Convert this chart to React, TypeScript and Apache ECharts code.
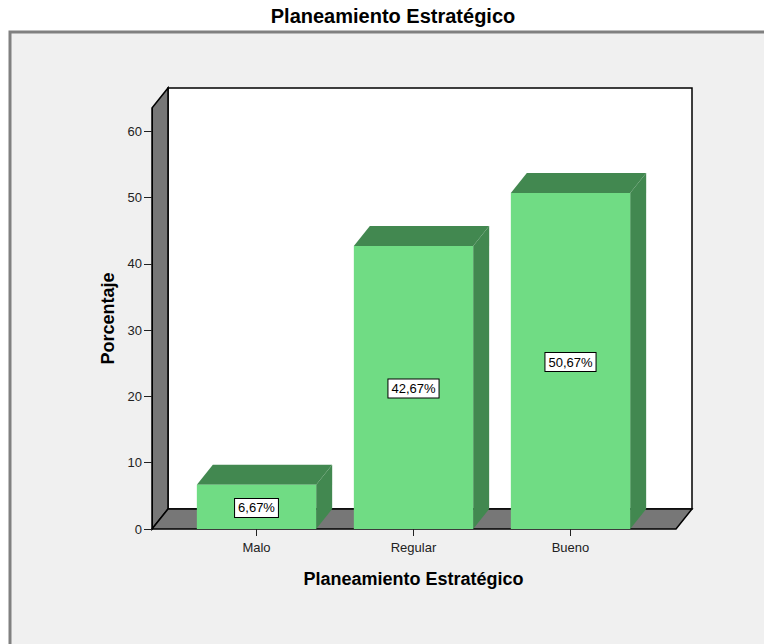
import React, { useEffect, useRef } from "react";
import * as echarts from "echarts";

// Category names, percentages and y tick values
const categories = ["Malo", "Regular", "Bueno"];
const percentages = [6.67, 42.67, 50.67];
const yTicks = [0, 10, 20, 30, 40, 50, 60];

const FONT = "'Liberation Sans', Arial, sans-serif";
// 3D depth offset of bars and walls (pixels)
const DX = 16;
const DY = -20;
const FRONT = "#70dc84";
const SHADE = "#428850";
const WALL = "#777777";

const fmt = (v: number) => v.toFixed(2).replace(".", ",") + "%";

export default function App() {
  const ref = useRef<HTMLDivElement>(null);

  useEffect(() => {
    if (!ref.current) return;
    const chart = echarts.init(ref.current, undefined, { renderer: "svg" });

    const option: any = {
      animation: false,
      backgroundColor: "#ffffff",
      title: {
        text: "Planeamiento Estratégico",
        left: 388,
        top: 1,
        textAlign: "center",
        textStyle: { fontFamily: FONT, fontSize: 20, fontWeight: "bold", color: "#000" },
      },
      graphic: [
        {
          type: "rect",
          z: -10,
          shape: { x: 10, y: 32, width: 800, height: 700 },
          style: { fill: "#f0f0f0", stroke: "#808080", lineWidth: 3 },
        },
      ],
      grid: { left: 178, width: 471, top: 108, height: 421 },
      xAxis: {
        type: "category",
        data: categories,
        z: 10,
        axisLine: { show: false },
        axisTick: { show: true, alignWithLabel: true, length: 7, lineStyle: { color: "#222", width: 1 } },
        axisLabel: { fontFamily: FONT, fontSize: 13, color: "#222", margin: 12 },
        name: "Planeamiento Estratégico",
        nameLocation: "middle",
        nameGap: 41,
        nameTextStyle: { fontFamily: FONT, fontSize: 18, fontWeight: "bold", color: "#000" },
      },
      yAxis: {
        type: "value",
        min: 0,
        max: 63.5,
        offset: 26,
        z: 10,
        splitLine: { show: false },
        axisLine: { show: true, lineStyle: { color: "#000", width: 1 } },
        axisTick: { show: true, length: 8, customValues: yTicks, lineStyle: { color: "#222" } },
        axisLabel: { fontFamily: FONT, fontSize: 13, color: "#222", margin: 10, customValues: yTicks },
        name: "Porcentaje",
        nameLocation: "middle",
        nameGap: 35,
        nameRotate: 90,
        nameTextStyle: { fontFamily: FONT, fontSize: 18, fontWeight: "bold", color: "#000" },
      },
      series: [
        {
          // left wall, back wall and floor of the 3D frame
          type: "custom",
          z: 1,
          clip: false,
          silent: true,
          data: [[0, 0]],
          encode: { x: 0, y: 1 },
          renderItem: (params: any) => {
            const cs = params.coordSys;
            const top = cs.y;
            const base = cs.y + cs.height;
            const L = cs.x - 26;
            const R = cs.x + cs.width + 27;
            return {
              type: "group",
              children: [
                {
                  type: "rect",
                  shape: { x: L + DX, y: top + DY, width: R - L, height: base - top },
                  style: { fill: "#ffffff", stroke: "#000", lineWidth: 1.5 },
                },
                {
                  type: "polygon",
                  shape: { points: [[L, top], [L + DX, top + DY], [L + DX, base + DY], [L, base]] },
                  style: { fill: WALL, stroke: "#000", lineWidth: 1.5 },
                },
                {
                  type: "polygon",
                  shape: { points: [[L, base], [L + DX, base + DY], [R + DX, base + DY], [R, base]] },
                  style: { fill: WALL, stroke: "#000", lineWidth: 1.5 },
                },
              ],
            };
          },
        },
        {
          // 3D bars with value boxes
          type: "custom",
          z: 2,
          clip: false,
          data: percentages.map((v, i) => [i, v]),
          encode: { x: 0, y: 1 },
          renderItem: (params: any, api: any) => {
            const idx = api.value(0);
            const val = api.value(1);
            const topPt = api.coord([idx, val]);
            const basePt = api.coord([idx, 0]);
            const halfW = api.size([1, 0])[0] * 0.38;
            const x0 = topPt[0] - halfW;
            const x1 = topPt[0] + halfW;
            const yt = topPt[1];
            const yb = basePt[1];
            return {
              type: "group",
              children: [
                {
                  type: "polygon",
                  shape: { points: [[x1, yt], [x1 + DX, yt + DY], [x1 + DX, yb + DY], [x1, yb]] },
                  style: { fill: SHADE },
                },
                {
                  type: "polygon",
                  shape: { points: [[x0, yt], [x0 + DX, yt + DY], [x1 + DX, yt + DY], [x1, yt]] },
                  style: { fill: SHADE },
                },
                {
                  type: "rect",
                  shape: { x: x0, y: yt, width: x1 - x0, height: yb - yt },
                  style: { fill: FRONT },
                },
                {
                  type: "text",
                  x: topPt[0],
                  y: (yt + yb) / 2 + 1,
                  style: {
                    text: fmt(val),
                    fontFamily: FONT,
                    fontSize: 13,
                    fill: "#000",
                    align: "center",
                    verticalAlign: "middle",
                    backgroundColor: "#ffffff",
                    borderColor: "#000",
                    borderWidth: 1,
                    padding: [3, 3, 2, 3],
                  },
                },
              ],
            };
          },
        },
      ],
    };

    chart.setOption(option);
    return () => chart.dispose();
  }, []);

  return (
    <div
      ref={ref}
      style={{ position: "fixed", left: 0, top: 0, width: 764, height: 644 }}
    />
  );
}
